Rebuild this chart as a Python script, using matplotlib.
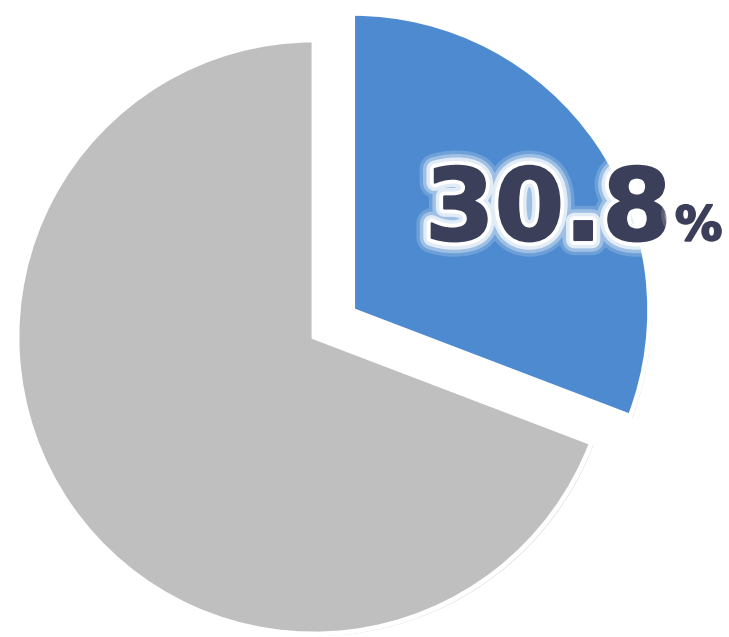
import matplotlib
matplotlib.use("Agg")
import matplotlib.pyplot as plt
import matplotlib.patheffects as pe

# data
labels = ["該当", "非該当"]
values = [30.8, 69.2]
colors = ["#4E8AD0", "#BFBFBF"]
explode = [0.158, 0.0]

W, H = 729, 637
R_PX = 297.0
CX, CY = 314.0, 337.0  # gray pie centre in pixels (from top-left)

fig = plt.figure(figsize=(W / 100, H / 100), dpi=100)
fig.patch.set_facecolor("white")
ax = fig.add_axes([0, 0, 1, 1])

wedges, _ = ax.pie(values, colors=colors, explode=explode, startangle=90,
                   counterclock=False, radius=1.0, center=(0, 0),
                   wedgeprops=dict(edgecolor="white", linewidth=3.5))
ax.set_xlim(-CX / R_PX, (W - CX) / R_PX)
ax.set_ylim(-(H - CY) / R_PX, CY / R_PX)
ax.set_aspect("auto")
ax.axis("off")

for w in wedges:
    w.set_path_effects([pe.SimplePatchShadow(offset=(1.5, -1.5), shadow_rgbFace="#888888", alpha=0.35),
                        pe.Normal()])


def px(x, y):
    return (x - CX) / R_PX, (CY - y) / R_PX


txt_color = "#3C3F5A"
glow = [pe.withStroke(linewidth=22, foreground=(1, 1, 1, 0.18)),
        pe.withStroke(linewidth=17, foreground=(1, 1, 1, 0.35)),
        pe.withStroke(linewidth=12, foreground=(1, 1, 1, 0.7)),
        pe.withStroke(linewidth=7, foreground="white"),
        pe.withStroke(linewidth=1.5, foreground=txt_color),
        pe.Normal()]

ax.text(*px(425, 240), f"{values[0]}", fontsize=72, fontweight="bold",
        color=txt_color, ha="left", va="baseline", family="DejaVu Sans",
        path_effects=glow)
ax.text(*px(675, 240), "%", fontsize=34, fontweight="bold",
        color=txt_color, ha="left", va="baseline", family="DejaVu Sans",
        path_effects=glow)

fig.savefig("out.png", dpi=100, facecolor="white")
